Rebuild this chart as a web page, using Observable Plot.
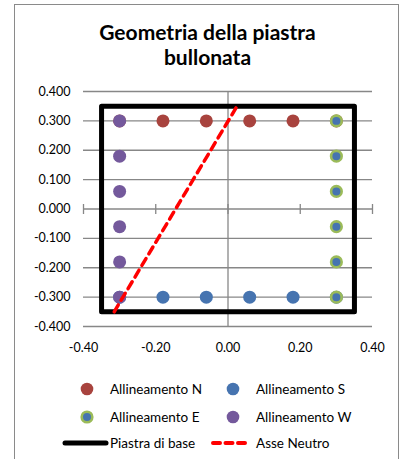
<!DOCTYPE html>
<html>
<head>
<meta charset="utf-8">
<script src="https://cdn.jsdelivr.net/npm/d3@7"></script>
<script src="https://cdn.jsdelivr.net/npm/@observablehq/plot@0.6"></script>
<style>
  html, body { margin: 0; padding: 0; background: #fff; }
  #wrap { position: relative; width: 403px; height: 459px; overflow: hidden; font-family: Lato, "Open Sans", sans-serif; }
  #border { position: absolute; left: 14px; top: 4px; width: 385px; height: 480px; border: 1.5px solid #8a8a8a; box-sizing: border-box; }
  #title { position: absolute; left: 14px; width: 387px; top: 19px; text-align: center; font-weight: bold; font-size: 21px; line-height: 25px; color: #000; }
  #chart { position: absolute; left: 0; top: 0; }
  .leg { position: absolute; font-size: 13.5px; color: #000; white-space: nowrap; line-height: 16px; }
  .sw { position: absolute; }
</style>
</head>
<body>
<div id="wrap">
  <div id="border"></div>
  <div id="title">Geometria della piastra<br>bullonata</div>
  <div id="chart"></div>
  <div id="legend"></div>
</div>
<script>
// ---- data ----
const xTicks = [-0.40, -0.20, 0.00, 0.20, 0.40];
const yTicks = [0.4, 0.3, 0.2, 0.1, 0, -0.1, -0.2, -0.3, -0.4];

const allineamentoN_x = [-0.30, -0.18, -0.06, 0.06, 0.18, 0.30];
const allineamentoN_y = [0.30, 0.30, 0.30, 0.30, 0.30, 0.30];
const allineamentoS_x = [-0.30, -0.18, -0.06, 0.06, 0.18, 0.30];
const allineamentoS_y = [-0.30, -0.30, -0.30, -0.30, -0.30, -0.30];
const allineamentoE_x = [0.30, 0.30, 0.30, 0.30, 0.30, 0.30];
const allineamentoE_y = [0.30, 0.18, 0.06, -0.06, -0.18, -0.30];
const allineamentoW_x = [-0.30, -0.30, -0.30, -0.30, -0.30, -0.30];
const allineamentoW_y = [0.30, 0.18, 0.06, -0.06, -0.18, -0.30];

const piastra_x = [-0.35, 0.35, 0.35, -0.35, -0.35];
const piastra_y = [0.35, 0.35, -0.35, -0.35, 0.35];

const asseNeutro_x = [-0.315, 0.025];
const asseNeutro_y = [-0.35, 0.35];

const seriesNames = ["Allineamento N", "Allineamento S", "Allineamento E", "Allineamento W", "Piastra di base", "Asse Neutro"];

// ---- styles ----
const cRed = "#a8433e", cBlue = "#4674b0", cGreen = "#9bbb59", cPurple = "#74599c";
const gridColor = "#878787";

const pts = (xs, ys) => xs.map((x, i) => ({x, y: ys[i]}));

const tickSymbol = {
  draw(ctx, size) {
    const h = Math.sqrt(size / Math.PI);
    ctx.moveTo(0, -h);
    ctx.lineTo(0, h);
  }
};

const plot = Plot.plot({
  width: 403,
  height: 459,
  marginLeft: 83,
  marginRight: 31,
  marginTop: 91,
  marginBottom: 133,
  style: {fontFamily: "Lato, 'Open Sans', sans-serif", fontSize: "12.5px", color: "#000", background: "transparent"},
  x: {domain: [-0.4, 0.4]},
  y: {domain: [-0.4, 0.4]},
  marks: [
    Plot.ruleY(yTicks, {y: d => d, x1: -0.4, x2: 0.4, stroke: gridColor, strokeWidth: 1.3}),
    Plot.ruleX([0], {x: d => d, y1: -0.4, y2: 0.4, stroke: gridColor, strokeWidth: 1.3}),
    Plot.dot(xTicks, {x: d => d, y: 0, symbol: tickSymbol, r: 5, stroke: gridColor, strokeWidth: 1.3, fill: "none"}),
    Plot.axisY({ticks: yTicks, tickFormat: d => d.toFixed(3), tickSize: 0, tickPadding: 13, label: null}),
    Plot.axisX({ticks: xTicks, tickFormat: d => d.toFixed(2), tickSize: 0, tickPadding: 17, label: null}),
    Plot.dot(pts(allineamentoN_x, allineamentoN_y), {x: "x", y: "y", r: 6.5, fill: cRed}),
    Plot.dot(pts(allineamentoS_x, allineamentoS_y), {x: "x", y: "y", r: 6.5, fill: cBlue}),
    Plot.dot(pts(allineamentoE_x, allineamentoE_y), {x: "x", y: "y", r: 5.3, fill: cBlue, stroke: cGreen, strokeWidth: 2.6}),
    Plot.dot(pts(allineamentoW_x, allineamentoW_y), {x: "x", y: "y", r: 6.5, fill: cPurple}),
    Plot.line(pts(piastra_x, piastra_y), {x: "x", y: "y", stroke: "#000", strokeWidth: 5, strokeLinejoin: "round", strokeLinecap: "round"}),
    Plot.line(pts(asseNeutro_x, asseNeutro_y), {x: "x", y: "y", stroke: "#ff0000", strokeWidth: 3.5, strokeDasharray: "8,5.5", strokeLinecap: "round"})
  ]
});
document.getElementById("chart").appendChild(plot);

// ---- legend ----
const legend = document.getElementById("legend");
const legendItems = [
  {name: seriesNames[0], kind: "dot", fill: cRed, sx: 87, tx: 110, cy: 389},
  {name: seriesNames[1], kind: "dot", fill: cBlue, sx: 233, tx: 256, cy: 389},
  {name: seriesNames[2], kind: "ring", fill: cBlue, stroke: cGreen, sx: 87, tx: 110, cy: 417},
  {name: seriesNames[3], kind: "dot", fill: cPurple, sx: 233, tx: 256, cy: 417},
  {name: seriesNames[4], kind: "line", stroke: "#000", sx: 86, tx: 110, cy: 443},
  {name: seriesNames[5], kind: "dash", stroke: "#ff0000", sx: 230, tx: 256, cy: 443}
];
for (const it of legendItems) {
  const ns = "http://www.w3.org/2000/svg";
  const svg = document.createElementNS(ns, "svg");
  svg.setAttribute("class", "sw");
  svg.setAttribute("width", 50);
  svg.setAttribute("height", 16);
  svg.style.left = (it.sx - 25) + "px";
  svg.style.top = (it.cy - 8) + "px";
  if (it.kind === "dot" || it.kind === "ring") {
    const c = document.createElementNS(ns, "circle");
    c.setAttribute("cx", 25); c.setAttribute("cy", 8);
    c.setAttribute("r", it.kind === "ring" ? 5.3 : 6.3);
    c.setAttribute("fill", it.fill);
    if (it.stroke) { c.setAttribute("stroke", it.stroke); c.setAttribute("stroke-width", 2.6); }
    svg.appendChild(c);
  } else {
    const l = document.createElementNS(ns, "line");
    if (it.kind === "line") {
      l.setAttribute("x1", 4); l.setAttribute("x2", 45);
      l.setAttribute("stroke-width", 5);
    } else {
      l.setAttribute("x1", 8); l.setAttribute("x2", 43);
      l.setAttribute("stroke-width", 4);
      l.setAttribute("stroke-dasharray", "7,5.5");
    }
    l.setAttribute("y1", 8); l.setAttribute("y2", 8);
    l.setAttribute("stroke", it.stroke);
    l.setAttribute("stroke-linecap", "round");
    svg.appendChild(l);
  }
  legend.appendChild(svg);
  const t = document.createElement("div");
  t.className = "leg";
  t.textContent = it.name;
  t.style.left = it.tx + "px";
  t.style.top = (it.cy - 8) + "px";
  legend.appendChild(t);
}
</script>
</body>
</html>
